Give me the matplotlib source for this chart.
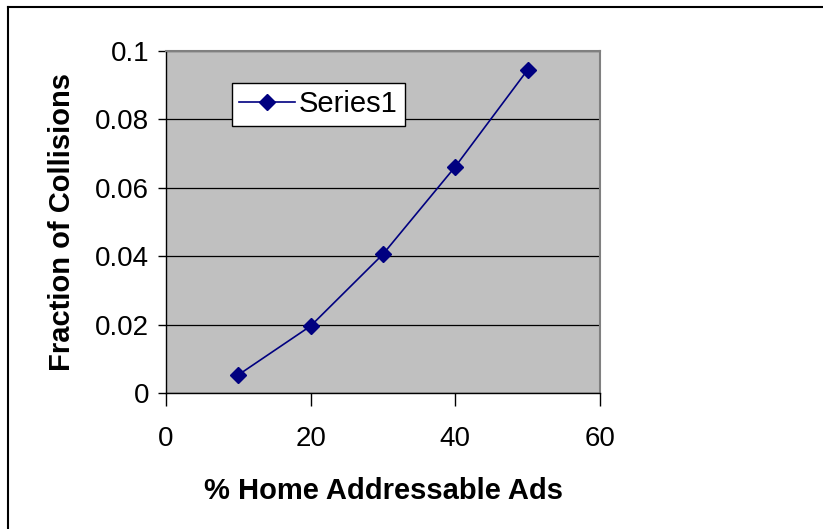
import matplotlib
matplotlib.use("Agg")
import matplotlib.pyplot as plt
from matplotlib.lines import Line2D

plt.rcParams['font.family'] = ['Liberation Sans', 'DejaVu Sans']

home_addressable_pct = [10, 20, 30, 40, 50]
collision_fraction = [0.0053, 0.0196, 0.0406, 0.0662, 0.0945]
x_ticks = [0, 20, 40, 60]
y_ticks = [0, 0.02, 0.04, 0.06, 0.08, 0.1]
y_tick_labels = ["0", "0.02", "0.04", "0.06", "0.08", "0.1"]

W, H = 823, 529
fig = plt.figure(figsize=(W / 100, H / 100), dpi=100)

# plot area in pixel coordinates
left, right, top, bottom = 166, 600, 51, 393
ax = fig.add_axes([left / W, 1 - bottom / H, (right - left) / W, (bottom - top) / H])
ax.set_facecolor('#c0c0c0')

# outer frame (top and left edges visible)
fig.add_artist(Line2D([8 / W, 8 / W], [0, 1 - 7 / H], transform=fig.transFigure,
                      color='black', lw=1.5))
fig.add_artist(Line2D([8 / W, 1], [1 - 7 / H, 1 - 7 / H], transform=fig.transFigure,
                      color='black', lw=1.5))

ax.plot(home_addressable_pct, collision_fraction, color='#000080', lw=1.2,
        marker='D', markersize=8, label='Series1', zorder=3)

ax.set_xlim(0, 60)
ax.set_ylim(0, 0.1)
ax.set_xticks(x_ticks)
ax.set_yticks(y_ticks)
ax.set_yticklabels(y_tick_labels)
ax.yaxis.grid(True, color='black', lw=0.9)
ax.set_axisbelow(True)

for side in ['top', 'right']:
    ax.spines[side].set_color('#808080')
    ax.spines[side].set_linewidth(1.5)
for side in ['left', 'bottom']:
    ax.spines[side].set_color('black')
    ax.spines[side].set_linewidth(1.0)

ax.tick_params(axis='y', direction='out', length=6, width=1, labelsize=20, pad=6)
ax.tick_params(axis='x', direction='out', length=9, width=1, labelsize=20, pad=15)

ax.set_xlabel('% Home Addressable Ads', fontsize=21, fontweight='bold', labelpad=18)
ax.set_ylabel('Fraction of Collisions', fontsize=21, fontweight='bold', labelpad=14)

leg = ax.legend(loc='upper left', bbox_to_anchor=((232 - left) / (right - left), 1 - (83 - top) / (bottom - top)),
                fontsize=21, frameon=True, fancybox=False, borderpad=0.25,
                handlelength=1.9, handletextpad=0.15, borderaxespad=0)
leg.get_frame().set_edgecolor('black')
leg.get_frame().set_linewidth(1.0)
leg.get_frame().set_facecolor('white')
leg.get_frame().set_alpha(1)

fig.savefig('out.png', dpi=100, facecolor='white')
